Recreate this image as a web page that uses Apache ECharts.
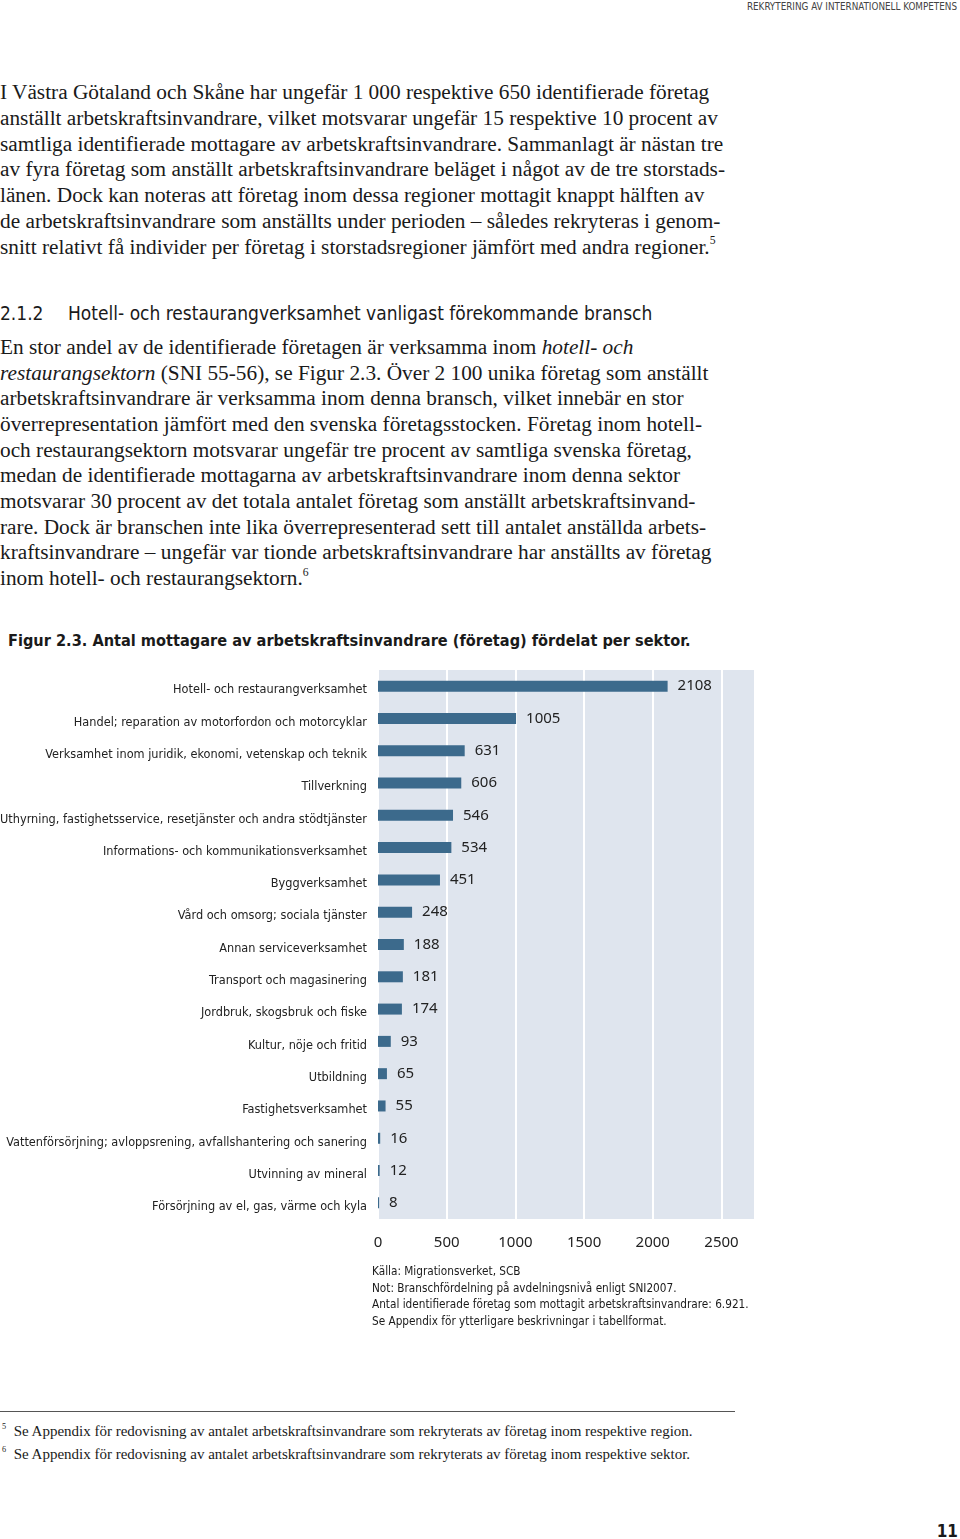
<!DOCTYPE html>
<html><head><meta charset="utf-8">
<script src="https://cdn.jsdelivr.net/npm/echarts@6/dist/echarts.min.js"></script>
<style>
html,body{margin:0;padding:0;background:#fff;}
#page{position:relative;width:960px;height:1539px;overflow:hidden;color:#1a1a1a;}
.serif{font-family:"Liberation Serif","DejaVu Serif",serif;}
.cond{font-family:"DejaVu Sans Condensed","DejaVu Sans",sans-serif;}
.abs{position:absolute;white-space:nowrap;}
.abs div{white-space:nowrap;}
sup{font-size:0.55em;vertical-align:0;position:relative;top:-0.8em;}
#chart{position:absolute;left:0;top:650px;width:960px;height:620px;}
</style></head>
<body><div id="page">
<div class="abs cond" style="right:3px;top:1px;font-size:9.8px;color:#444;line-height:12px;">REKRYTERING AV INTERNATIONELL KOMPETENS</div>

<div class="abs serif" style="left:0;top:80px;font-size:21.3px;line-height:25.8px;">
<div>I Västra Götaland och Skåne har ungefär 1 000 respektive 650 identifierade företag</div>
<div>anställt arbetskraftsinvandrare, vilket motsvarar ungefär 15 respektive 10 procent av</div>
<div>samtliga identifierade mottagare av arbetskraftsinvandrare. Sammanlagt är nästan tre</div>
<div>av fyra företag som anställt arbetskraftsinvandrare beläget i något av de tre storstads-</div>
<div>länen. Dock kan noteras att företag inom dessa regioner mottagit knappt hälften av</div>
<div>de arbetskraftsinvandrare som anställts under perioden – således rekryteras i genom-</div>
<div>snitt relativt få individer per företag i storstadsregioner jämfört med andra regioner.<sup>5</sup></div>
</div>

<div class="abs cond" style="left:0;top:300px;font-size:19px;line-height:26px;color:#1a1a1a;">2.1.2</div>
<div class="abs cond" style="left:68px;top:300px;font-size:19px;line-height:26px;color:#1a1a1a;">Hotell- och restaurangverksamhet vanligast förekommande bransch</div>

<div class="abs serif" style="left:0;top:335px;font-size:21.3px;line-height:25.67px;">
<div>En stor andel av de identifierade företagen är verksamma inom <i>hotell- och</i></div>
<div><i>restaurangsektorn</i> (SNI 55-56), se Figur 2.3. Över 2 100 unika företag som anställt</div>
<div>arbetskraftsinvandrare är verksamma inom denna bransch, vilket innebär en stor</div>
<div>överrepresentation jämfört med den svenska företagsstocken. Företag inom hotell-</div>
<div>och restaurangsektorn motsvarar ungefär tre procent av samtliga svenska företag,</div>
<div>medan de identifierade mottagarna av arbetskraftsinvandrare inom denna sektor</div>
<div>motsvarar 30 procent av det totala antalet företag som anställt arbetskraftsinvand-</div>
<div>rare. Dock är branschen inte lika överrepresenterad sett till antalet anställda arbets-</div>
<div>kraftsinvandrare – ungefär var tionde arbetskraftsinvandrare har anställts av företag</div>
<div>inom hotell- och restaurangsektorn.<sup>6</sup></div>
</div>

<div class="abs cond" style="left:8px;top:630px;font-size:16.2px;line-height:22px;font-weight:bold;">Figur 2.3. Antal mottagare av arbetskraftsinvandrare (företag) fördelat per sektor.</div>

<div id="chart"></div>

<div class="abs cond" style="left:372px;top:1263px;font-size:11.7px;line-height:16.7px;">
<div>Källa: Migrationsverket, SCB</div>
<div>Not: Branschfördelning på avdelningsnivå enligt SNI2007.</div>
<div>Antal identifierade företag som mottagit arbetskraftsinvandrare: 6.921.</div>
<div>Se Appendix för ytterligare beskrivningar i tabellformat.</div>
</div>

<div style="position:absolute;left:0;top:1411px;width:735px;height:1px;background:#555;"></div>
<div class="abs serif" style="left:2px;top:1421px;font-size:15px;line-height:21px;">
<div><sup>5</sup>&nbsp; Se Appendix för redovisning av antalet arbetskraftsinvandrare som rekryterats av företag inom respektive region.</div>
<div><sup>6</sup>&nbsp; Se Appendix för redovisning av antalet arbetskraftsinvandrare som rekryterats av företag inom respektive sektor.</div>
</div>

<div class="abs cond" style="right:2px;top:1521px;font-size:17px;line-height:20px;font-weight:bold;">11</div>
</div>

<script>
const categories = [
  "Hotell- och restaurangverksamhet",
  "Handel; reparation av motorfordon och motorcyklar",
  "Verksamhet inom juridik, ekonomi, vetenskap och teknik",
  "Tillverkning",
  "Uthyrning, fastighetsservice, resetjänster och andra stödtjänster",
  "Informations- och kommunikationsverksamhet",
  "Byggverksamhet",
  "Vård och omsorg; sociala tjänster",
  "Annan serviceverksamhet",
  "Transport och magasinering",
  "Jordbruk, skogsbruk och fiske",
  "Kultur, nöje och fritid",
  "Utbildning",
  "Fastighetsverksamhet",
  "Vattenförsörjning; avloppsrening, avfallshantering och sanering",
  "Utvinning av mineral",
  "Försörjning av el, gas, värme och kyla"
];
const values = [2108, 1005, 631, 606, 546, 534, 451, 248, 188, 181, 174, 93, 65, 55, 16, 12, 8];
const axisMax = 2744;
const axisStep = 500;

const chart = echarts.init(document.getElementById('chart'), null, {renderer: 'canvas'});
chart.setOption({
  animation: false,
  grid: {left: 378, top: 20, width: 377, height: 549, show: true, backgroundColor: '#dfe5ee', borderWidth: 0, containLabel: false, outerBoundsMode: 'none'},
  xAxis: {
    type: 'value', min: 0, max: axisMax, interval: axisStep,
    axisLine: {show: false}, axisTick: {show: false},
    splitLine: {lineStyle: {color: '#ffffff', width: 2}},
    axisLabel: {formatter: v => (v % axisStep === 0 ? String(v) : ''), fontSize: 15, color: '#222', fontFamily: 'Noto Sans', margin: 16}
  },
  yAxis: {
    type: 'category', inverse: true, data: categories,
    axisLine: {show: false}, axisTick: {show: false}, splitLine: {show: false},
    axisLabel: {fontSize: 12.6, color: '#222', fontFamily: '"DejaVu Sans Condensed", sans-serif', margin: 11, verticalAlign: 'top', lineHeight: 14, padding: [-3, 0, 0, 0]}
  },
  series: [{
    type: 'bar', data: values, barWidth: 11,
    itemStyle: {color: '#3c6a8c'},
    label: {show: true, position: 'right', distance: 10, fontSize: 15, color: '#222', fontFamily: 'Noto Sans'}
  }]
});
</script>
</body></html>
